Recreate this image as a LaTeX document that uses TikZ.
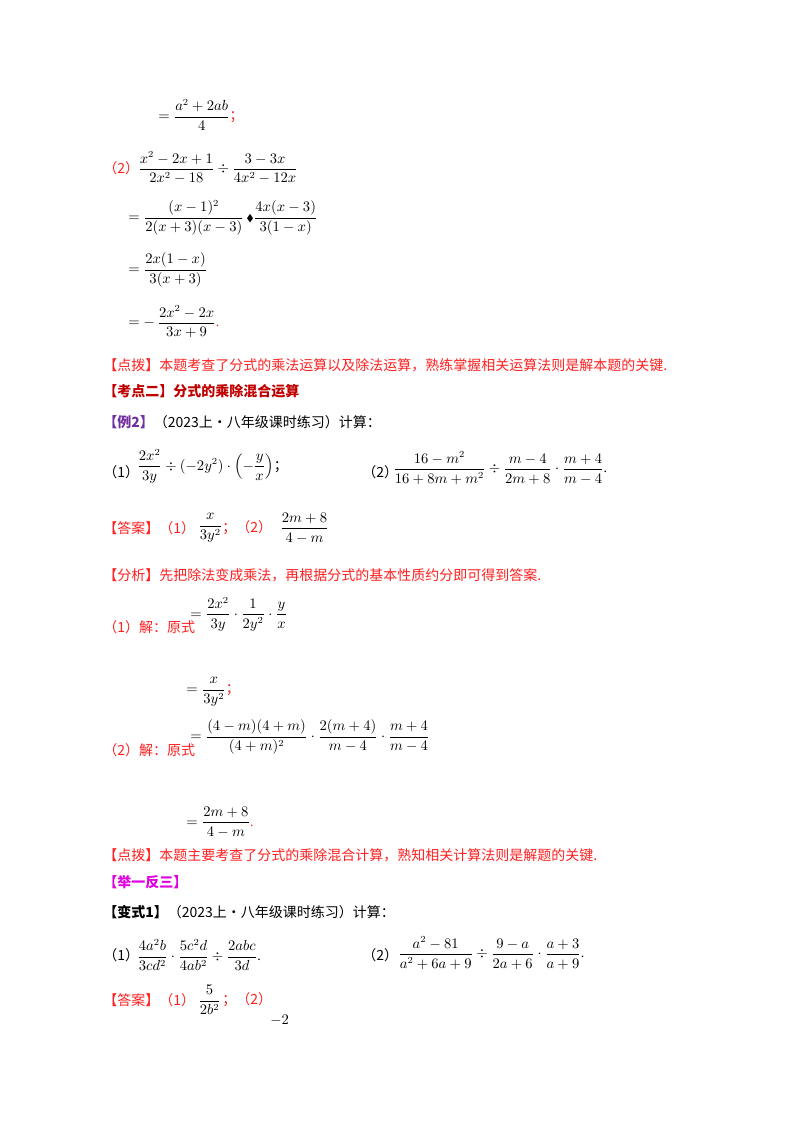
\documentclass[tikz,border=0pt]{standalone}
\usepackage{amsmath,amssymb}
\usepackage{fontspec}
\setmainfont{Liberation Serif}
\newfontfamily\cjk{Noto Sans CJK SC}
\definecolor{rd}{HTML}{FF2020}
\definecolor{drd}{HTML}{C00000}
\definecolor{pur}{HTML}{7030A0}
\definecolor{mag}{HTML}{E000E0}
\tikzset{t/.style={anchor=west,inner sep=0pt,font=\fontsize{10.5pt}{12pt}\selectfont},
 r/.style={t,text=rd}}
\begin{document}
\begin{tikzpicture}[x=0.75pt,y=-0.75pt]
\useasboundingbox (0,0) rectangle (800,1132);
\node[t] (a1) at (158,115) {$=\dfrac{a^2+2ab}{4}$\textcolor{rd}{\cjk ；}};
\node[r] (a2) at (103,168) {\cjk （2）};
\node[t] (a3) at (138,168) {$\dfrac{x^2-2x+1}{2x^2-18}\div\dfrac{3-3x}{4x^2-12x}$};
\node[t] (a4) at (128,218) {$=\dfrac{(x-1)^2}{2(x+3)(x-3)}\,{\scriptstyle\blacklozenge}\dfrac{4x(x-3)}{3(1-x)}$};
\node[t] (a5) at (128,270) {$=\dfrac{2x(1-x)}{3(x+3)}$};
\node[t] (a6) at (128,322) {$=-\,\dfrac{2x^2-2x}{3x+9}$\textcolor{rd}{.}};
\node[r] (b1) at (103,365) {\cjk 【点拨】本题考查了分式的乘法运算以及除法运算，熟练掌握相关运算法则是解本题的关键.};
\node[t,text=drd] (b2) at (103,391) {\cjk\bfseries 【考点二】分式的乘除混合运算};
\node[t] (b3) at (103,422) {\cjk\textcolor{pur}{\bfseries 【例2】}（2023上·八年级课时练习）计算：};
\node[t] (c1) at (103,472) {\cjk （1）};
\node[t] (c2) at (137,466) {$\dfrac{2x^2}{3y}\div\left(-2y^2\right)\cdot\left(-\dfrac{y}{x}\right)$\cjk ；};
\node[t] (c3) at (362,472) {\cjk （2）};
\node[t] (c4) at (393,468) {$\dfrac{16-m^2}{16+8m+m^2}\div\dfrac{m-4}{2m+8}\cdot\dfrac{m+4}{m-4}$.};
\node[r] (d1) at (103,528) {\cjk 【答案】（1）};
\node[t] (d2) at (198,528) {$\dfrac{x}{3y^2}$};
\node[r] (d3) at (222,528) {\cjk ；（2）};
\node[t] (d4) at (280,528) {$\dfrac{2m+8}{4-m}$};
\node[r] (e1) at (103,575) {\cjk 【分析】先把除法变成乘法，再根据分式的基本性质约分即可得到答案.};
\node[r] (f1) at (103,627) {\cjk （1）解：原式};
\node[t] (f2) at (190,614) {$=\dfrac{2x^2}{3y}\cdot\dfrac{1}{2y^2}\cdot\dfrac{y}{x}$};
\node[t] (f3) at (186,692) {$=\dfrac{x}{3y^2}$\textcolor{rd}{\cjk ；}};
\node[r] (g1) at (103,750) {\cjk （2）解：原式};
\node[t] (g2) at (190,737) {$=\dfrac{(4-m)(4+m)}{(4+m)^2}\cdot\dfrac{2(m+4)}{m-4}\cdot\dfrac{m+4}{m-4}$};
\node[t] (g3) at (186,822) {$=\dfrac{2m+8}{4-m}$\textcolor{rd}{.}};
\node[r] (h1) at (103,855) {\cjk 【点拨】本题主要考查了分式的乘除混合计算，熟知相关计算法则是解题的关键.};
\node[t,text=mag] (h2) at (103,882) {\cjk\bfseries 【举一反三】};
\node[t] (h3) at (103,912) {\cjk{\bfseries 【变式1】}（2023上·八年级课时练习）计算：};
\node[t] (i1) at (103,955) {\cjk （1）};
\node[t] (i2) at (137,955) {$\dfrac{4a^2b}{3cd^2}\cdot\dfrac{5c^2d}{4ab^2}\div\dfrac{2abc}{3d}$.};
\node[t] (i3) at (362,955) {\cjk （2）};
\node[t] (i4) at (398,953) {$\dfrac{a^2-81}{a^2+6a+9}\div\dfrac{9-a}{2a+6}\cdot\dfrac{a+3}{a+9}$.};
\node[r] (j1) at (103,1000) {\cjk 【答案】（1）};
\node[t] (j2) at (198,1000) {$\dfrac{5}{2b^2}$};
\node[r] (j3) at (222,1000) {\cjk ；（2）};
\node[t] (j4) at (270,1020) {$-2$};
\end{tikzpicture}
\end{document}
